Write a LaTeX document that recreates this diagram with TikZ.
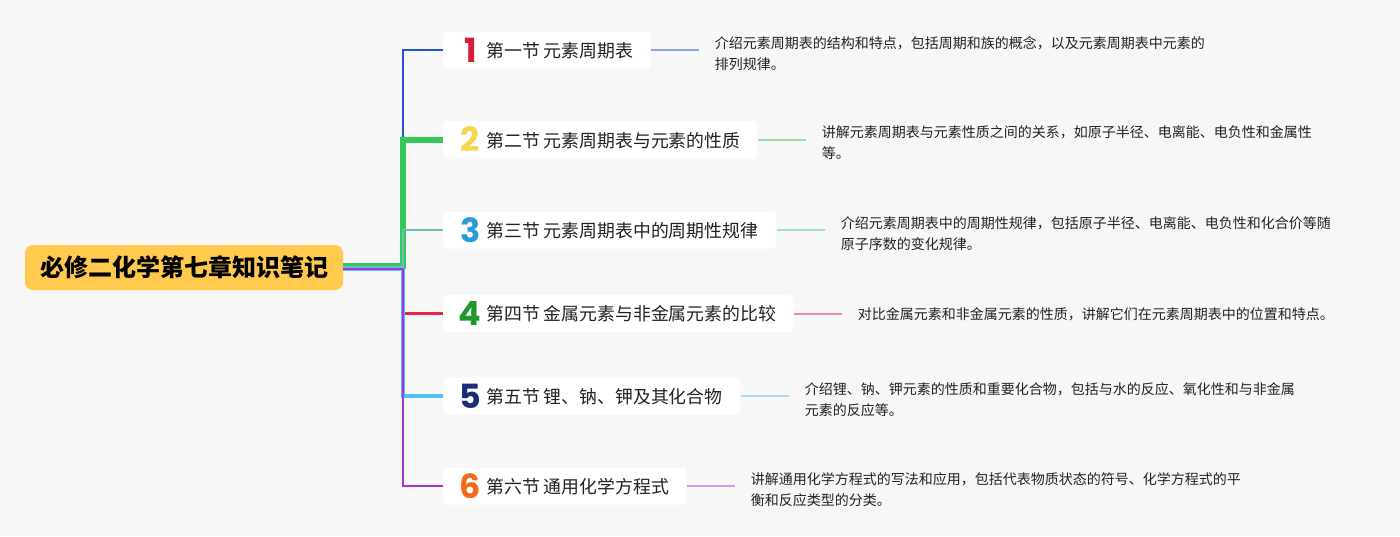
\documentclass[tikz,border=0pt]{standalone}
\usepackage{fontspec}
\setmainfont{Noto Sans CJK SC}
\newfontfamily\numfont{Poppins}
\usetikzlibrary{calc}
\definecolor{bg}{RGB}{247,247,248}
\definecolor{rootyellow}{RGB}{255,202,77}
\definecolor{txt}{RGB}{34,34,34}
\definecolor{n1}{RGB}{216,30,54}
\definecolor{n2}{RGB}{244,213,78}
\definecolor{n3}{RGB}{43,155,217}
\definecolor{n4}{RGB}{30,154,44}
\definecolor{n5}{RGB}{28,42,122}
\definecolor{n6}{RGB}{242,107,29}
\definecolor{b1}{RGB}{31,85,208}
\definecolor{b2}{RGB}{52,199,89}
\definecolor{b3}{RGB}{106,191,176}
\definecolor{b4}{RGB}{232,37,74}
\definecolor{b5}{RGB}{79,195,247}
\definecolor{b6}{RGB}{162,52,216}
\definecolor{l1c}{RGB}{136,166,230}
\definecolor{l2c}{RGB}{154,219,168}
\definecolor{l3c}{RGB}{168,220,210}
\definecolor{l4c}{RGB}{240,138,160}
\definecolor{l5c}{RGB}{168,221,238}
\definecolor{l6c}{RGB}{213,155,232}
\newcommand{\chnum}[2]{\makebox[12pt]{\raisebox{-3.5pt}{\numfont\bfseries\fontsize{25}{25}\selectfont\color{#1}#2}}\hspace{6pt}}
\newcommand{\chbox}[4]{\makebox[#1][l]{\chnum{#2}{#3}#4}}
\begin{document}
\begin{tikzpicture}[x=0.75pt,y=-0.75pt,
  rootbox/.style={fill=rootyellow, rounded corners=6pt, minimum width=238.5pt, minimum height=33.75pt, inner sep=0pt, font=\bfseries\fontsize{18}{22}\selectfont, text=black},
  child/.style={fill=white, rounded corners=3pt, anchor=west, minimum height=27.75pt, inner xsep=14.25pt, inner ysep=0pt, font=\fontsize{13.4}{16}\selectfont, text=txt},
  leaf/.style={anchor=west, inner xsep=12pt, inner ysep=0pt, align=left, font=\fontsize{10.5}{15.75}\selectfont, text=txt},
  leafline/.style={line width=1.5pt},
  branch/.style={line join=miter}
]
\fill[bg] (0,0) rectangle (1400,536);
\useasboundingbox (0,0) rectangle (1400,536);

\node[rootbox] (root) at (184,267.5) {必修二化学第七章知识笔记};

\node[child] (c1) at (443,50) {\chbox{126.75pt}{n1}{1}{第一节 元素周期表}};
\node[child] (c2) at (443,139.5) {\chbox{207pt}{n2}{2}{第二节 元素周期表与元素的性质}};
\node[child] (c3) at (443,230) {\chbox{221.25pt}{n3}{3}{第三节 元素周期表中的周期性规律}};
\node[child] (c4) at (443,313.5) {\chbox{234pt}{n4}{4}{第四节 金属元素与非金属元素的比较}};
\node[child] (c5) at (443,396) {\chbox{194.25pt}{n5}{5}{第五节 锂、钠、钾及其化合物}};
\node[child] (c6) at (443,486) {\chbox{153.75pt}{n6}{6}{第六节 通用化学方程式}};

\coordinate (j1) at (403,50);
\coordinate (j2) at (403,139.5);
\coordinate (j3) at (403,230);
\coordinate (j4) at (403,313.5);
\coordinate (j5) at (403,396);
\coordinate (j6) at (403,486);

\draw[branch, b1, line width=1.9pt] ($(root.east)+(0,-1)$) -| (j1) -- (c1.west);
\draw[branch, b2, line width=4.5pt] ($(root.east)+(0,-1.5)$) -| (j2) -- (c2.west);
\draw[branch, b3, line width=1.9pt] ($(root.east)+(0,-0.5)$) -| (j3) -- (c3.west);
\draw[branch, b4, line width=2.2pt] ($(root.east)+(0,0.5)$) -| (j4) -- (c4.west);
\draw[branch, b5, line width=3pt] ($(root.east)+(0,1)$) -| (j5) -- (c5.west);
\draw[branch, b6, line width=2.2pt] ($(root.east)+(0,1.5)$) -| (j6) -- (c6.west);

\node[leaf] (l1) at ($(c1.east)+(48,3.5)$) {介绍元素周期表的结构和特点，包括周期和族的概念，以及元素周期表中元素的\\排列规律。};
\node[leaf] (l2) at ($(c2.east)+(48,3.5)$) {讲解元素周期表与元素性质之间的关系，如原子半径、电离能、电负性和金属性\\等。};
\node[leaf] (l3) at ($(c3.east)+(48,3.5)$) {介绍元素周期表中的周期性规律，包括原子半径、电离能、电负性和化合价等随\\原子序数的变化规律。};
\node[leaf] (l4) at ($(c4.east)+(48,0.5)$) {对比金属元素和非金属元素的性质，讲解它们在元素周期表中的位置和特点。};
\node[leaf] (l5) at ($(c5.east)+(48,3.5)$) {介绍锂、钠、钾元素的性质和重要化合物，包括与水的反应、氧化性和与非金属\\元素的反应等。};
\node[leaf] (l6) at ($(c6.east)+(48,3.5)$) {讲解通用化学方程式的写法和应用，包括代表物质状态的符号、化学方程式的平\\衡和反应类型的分类。};

\draw[leafline, l1c] (c1.east) -- (c1.east -| l1.west);
\draw[leafline, l2c] (c2.east) -- (c2.east -| l2.west);
\draw[leafline, l3c] (c3.east) -- (c3.east -| l3.west);
\draw[leafline, l4c] (c4.east) -- (c4.east -| l4.west);
\draw[leafline, l5c] (c5.east) -- (c5.east -| l5.west);
\draw[leafline, l6c] (c6.east) -- (c6.east -| l6.west);
\end{tikzpicture}
\end{document}
